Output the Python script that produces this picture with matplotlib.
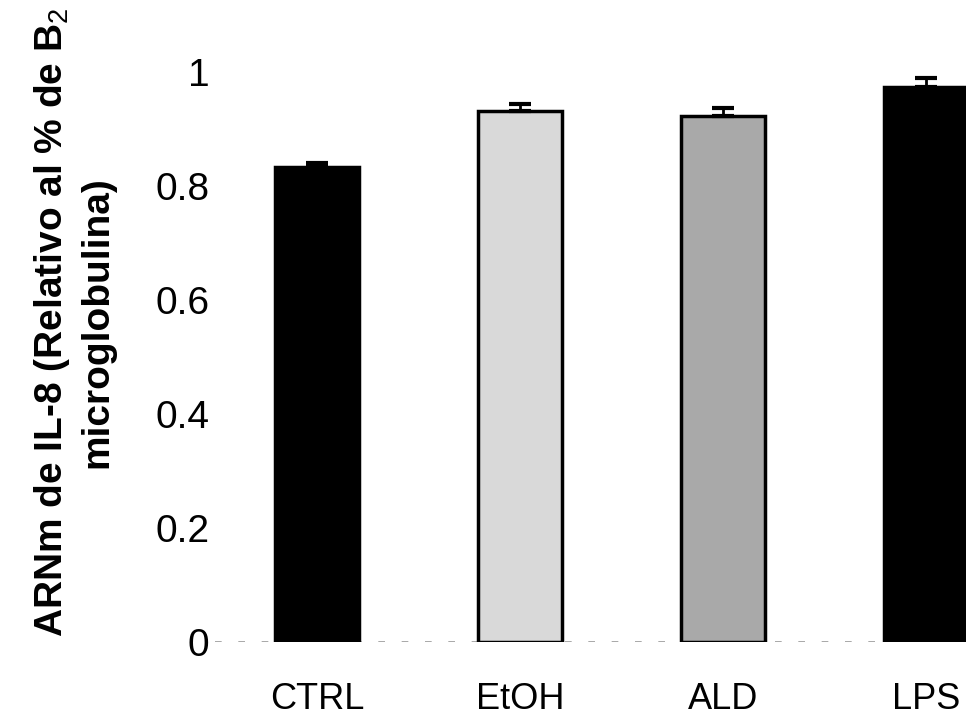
import matplotlib
matplotlib.use("Agg")
import matplotlib.pyplot as plt

categories = ["CTRL", "EtOH", "ALD", "LPS"]
values = [0.834, 0.932, 0.923, 0.974]
errors = [0.007, 0.011, 0.013, 0.016]
colors = ["#000000", "#d9d9d9", "#a9a9a9", "#000000"]
yticks = [0, 0.2, 0.4, 0.6, 0.8, 1]
yticklabels = ["0", "0.2", "0.4", "0.6", "0.8", "1"]

plt.rcParams["font.family"] = ["Liberation Sans", "DejaVu Sans"]
plt.rcParams["mathtext.fontset"] = "custom"
plt.rcParams["mathtext.rm"] = "Liberation Sans"
plt.rcParams["mathtext.bf"] = "Liberation Sans:bold"

fig = plt.figure(figsize=(9.66, 7.17), dpi=100)
ax = fig.add_axes([215 / 966, 75 / 717, 1 - 215 / 966, (642 - 43.5) / 717])

x = list(range(len(categories)))
ax.bar(x, values, width=0.414, color=colors, edgecolor="black", linewidth=2.5, zorder=3)
ax.errorbar(x, values, yerr=[[0] * len(errors), errors], fmt="none", ecolor="black",
            elinewidth=2, capsize=8, capthick=3, zorder=4)

ax.axhline(0, color="#999999", linestyle=(0, (4, 10)), linewidth=1.2, zorder=1)

ax.set_xlim(-0.502, 3.197)
ax.set_ylim(0, 1.05)
ax.set_yticks(yticks)
ax.set_yticklabels(yticklabels, fontsize=28)
ax.set_xticks(x)
ax.set_xticklabels(categories, fontsize=26)
ax.tick_params(axis="y", length=0, pad=4)
ax.tick_params(axis="x", length=0, pad=29)
for s in ax.spines.values():
    s.set_visible(False)

fig.text(74 / 966, 1 - 322 / 717,
         "ARNm de IL-8 (Relativo al % de B$_{2}$\nmicroglobulina)",
         rotation=90, ha="center", va="center", multialignment="center",
         fontsize=28, fontweight="bold", linespacing=1.25)

fig.savefig("out.png", dpi=100)
